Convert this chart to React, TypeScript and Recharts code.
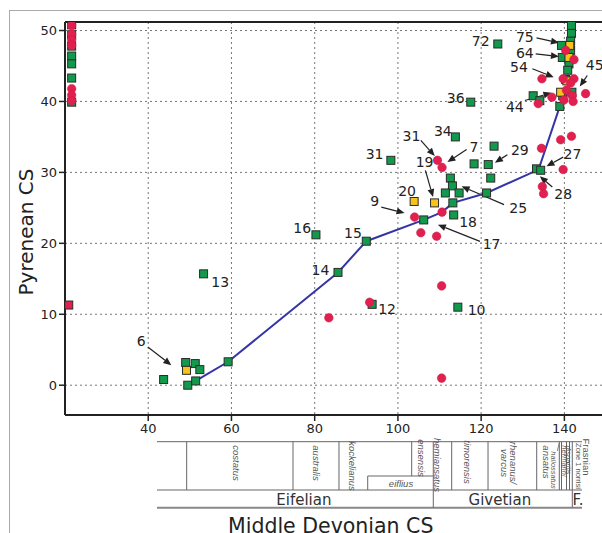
import React from 'react';
import { ComposedChart, Scatter, XAxis, YAxis, CartesianGrid, ReferenceLine } from 'recharts';

const X_TICKS = [40, 60, 80, 100, 120, 140];
const Y_TICKS = [0, 10, 20, 30, 40, 50];
const X_DOMAIN: [number, number] = [20, 150];
const Y_DOMAIN: [number, number] = [-4.2, 51.2];

const greenSquares = [
  { x: 21.6, y: 50.8 }, { x: 21.6, y: 49.4 }, { x: 21.6, y: 47.8 }, { x: 21.6, y: 46.4 },
  { x: 21.6, y: 45.3 }, { x: 21.6, y: 43.3 }, { x: 21.6, y: 39.9 },
  { x: 43.7, y: 0.8 }, { x: 49.0, y: 3.2 }, { x: 51.3, y: 3.05 }, { x: 52.4, y: 2.2 },
  { x: 49.5, y: 0.0 }, { x: 51.4, y: 0.6 }, { x: 59.2, y: 3.3 },
  { x: 53.3, y: 15.7 }, { x: 80.3, y: 21.2 }, { x: 85.6, y: 15.9 }, { x: 92.4, y: 20.3 },
  { x: 93.8, y: 11.4 }, { x: 114.4, y: 11.0 }, { x: 98.3, y: 31.7 },
  { x: 113.8, y: 35.0 }, { x: 118.3, y: 31.2 }, { x: 123.1, y: 33.7 }, { x: 121.7, y: 31.1 },
  { x: 122.3, y: 29.2 }, { x: 112.6, y: 29.2 }, { x: 113.1, y: 28.1 }, { x: 111.4, y: 27.1 },
  { x: 114.7, y: 27.1 }, { x: 113.2, y: 25.7 }, { x: 121.3, y: 27.1 }, { x: 113.4, y: 24.0 },
  { x: 106.2, y: 23.3 }, { x: 133.3, y: 30.5 }, { x: 134.3, y: 30.3 },
  { x: 124.0, y: 48.1 }, { x: 117.5, y: 39.9 },
  { x: 141.7, y: 50.7 }, { x: 141.7, y: 49.6 }, { x: 141.5, y: 48.5 }, { x: 139.3, y: 47.9 },
  { x: 141.5, y: 47.2 }, { x: 139.5, y: 46.2 }, { x: 141.1, y: 45.3 }, { x: 140.8, y: 44.4 },
  { x: 140.3, y: 43.1 }, { x: 141.8, y: 41.3 }, { x: 132.5, y: 40.8 }, { x: 134.1, y: 40.1 },
  { x: 139.6, y: 40.8 }, { x: 138.9, y: 39.3 },
];

const redCircles = [
  { x: 21.6, y: 50.7 }, { x: 21.6, y: 49.5 }, { x: 21.6, y: 48.7 }, { x: 21.6, y: 47.9 },
  { x: 21.6, y: 41.8 }, { x: 21.6, y: 40.9 }, { x: 21.6, y: 40.1 },
  { x: 83.4, y: 9.5 }, { x: 93.2, y: 11.7 }, { x: 104.0, y: 23.7 }, { x: 105.5, y: 21.5 },
  { x: 109.5, y: 31.7 }, { x: 110.6, y: 30.7 }, { x: 110.6, y: 24.4 }, { x: 109.3, y: 21.0 },
  { x: 110.5, y: 14.0 }, { x: 110.5, y: 1.0 }, { x: 134.5, y: 33.4 }, { x: 134.7, y: 28.0 },
  { x: 135.0, y: 27.0 }, { x: 139.7, y: 30.4 },
  { x: 139.1, y: 34.6 }, { x: 141.7, y: 35.1 }, { x: 140.3, y: 47.2 }, { x: 142.3, y: 45.9 },
  { x: 134.6, y: 43.2 }, { x: 139.7, y: 43.2 }, { x: 142.3, y: 43.2 }, { x: 141.5, y: 42.6 },
  { x: 140.5, y: 41.6 }, { x: 137.0, y: 40.6 }, { x: 145.1, y: 41.1 }, { x: 133.7, y: 39.7 },
  { x: 139.9, y: 40.2 }, { x: 141.9, y: 40.8 }, { x: 142.1, y: 40.0 },
];

const redSquares = [{ x: 20.9, y: 11.3 }];

const yellowSquares = [
  { x: 49.2, y: 2.1 }, { x: 103.9, y: 25.9 }, { x: 108.8, y: 25.7 }, { x: 141.3, y: 47.9 },
  { x: 141.1, y: 46.2 }, { x: 140.6, y: 42.9 }, { x: 139.1, y: 41.3 },
];

const trendLine = [
  { x: 51.4, y: 0.6 }, { x: 59.2, y: 3.3 }, { x: 85.6, y: 15.9 }, { x: 92.4, y: 20.3 },
  { x: 106.2, y: 23.3 }, { x: 110.6, y: 24.4 }, { x: 113.2, y: 25.7 }, { x: 121.3, y: 27.1 },
  { x: 133.8, y: 30.4 }, { x: 138.9, y: 39.3 },
];

const pointLabels = [
  { x: 38.3, y: 6.2, text: '6' }, { x: 57.3, y: 14.55, text: '13' }, { x: 77.0, y: 22.2, text: '16' },
  { x: 81.4, y: 16.2, text: '14' }, { x: 89.2, y: 21.4, text: '15' }, { x: 97.4, y: 10.8, text: '12' },
  { x: 118.9, y: 10.56, text: '10' }, { x: 94.4, y: 26.0, text: '9' }, { x: 102.2, y: 27.4, text: '20' },
  { x: 94.4, y: 32.6, text: '31' }, { x: 103.25, y: 35.1, text: '31' }, { x: 110.8, y: 35.9, text: '34' },
  { x: 118.3, y: 33.6, text: '7' }, { x: 129.3, y: 33.1, text: '29' }, { x: 106.4, y: 31.45, text: '19' },
  { x: 128.9, y: 25.0, text: '25' }, { x: 116.85, y: 23.0, text: '18' }, { x: 122.5, y: 19.96, text: '17' },
  { x: 141.95, y: 32.6, text: '27' }, { x: 139.7, y: 26.9, text: '28' }, { x: 130.5, y: 49.06, text: '75' },
  { x: 130.5, y: 46.8, text: '64' }, { x: 129.1, y: 44.83, text: '54' }, { x: 128.1, y: 39.2, text: '44' },
  { x: 147.3, y: 45.07, text: '45' }, { x: 119.9, y: 48.5, text: '72' }, { x: 113.9, y: 40.5, text: '36' },
];

const arrows = [
  { x1: 39.9, y1: 5.39, x2: 45.55, y2: 2.82 },
  { x1: 96.0, y1: 25.11, x2: 101.6, y2: 24.27 },
  { x1: 105.5, y1: 34.51, x2: 108.85, y2: 32.3 },
  { x1: 116.5, y1: 33.24, x2: 111.9, y2: 31.45 },
  { x1: 126.3, y1: 32.49, x2: 123.3, y2: 31.37 },
  { x1: 106.6, y1: 30.28, x2: 108.44, y2: 26.52 },
  { x1: 125.5, y1: 25.45, x2: 115.3, y2: 28.03 },
  { x1: 119.7, y1: 20.28, x2: 109.6, y2: 22.63 },
  { x1: 139.7, y1: 32.15, x2: 135.7, y2: 30.85 },
  { x1: 137.1, y1: 27.93, x2: 134.1, y2: 29.44 },
  { x1: 133.3, y1: 48.97, x2: 138.7, y2: 48.27 },
  { x1: 133.1, y1: 46.72, x2: 138.7, y2: 46.34 },
  { x1: 132.3, y1: 44.61, x2: 137.45, y2: 43.42 },
  { x1: 130.5, y1: 40.14, x2: 136.9, y2: 41.23 },
  { x1: 145.5, y1: 43.66, x2: 143.7, y2: 42.11 },
];

// biozone table (positions on the CS scale)
const TABLE_RANGE = [42.11, 144.23];
const zoneLines = [49.24, 74.79, 85.84, 112.92, 121.65, 133.35, 138.78, 139.31, 140.51, 141.23];
const stageLines = [108.5, 141.9];
const ensensisLine = 103.31;
const eiflusBox = [92.74, 108.5];
const zoneNames = [
  { name: 'costatus', x: 61.26, y: 463, italic: true },
  { name: 'australis', x: 80.48, y: 463, italic: true },
  { name: 'kockelianus', x: 89.04, y: 466, italic: true },
  { name: 'ensensis', x: 105.55, y: 458, italic: true },
  { name: 'hemiansatus', x: 109.46, y: 465, italic: true },
  { name: 'timorensis', x: 116.67, y: 462, italic: true },
  { name: 'rhenanus/', x: 127.73, y: 463, italic: true },
  { name: 'varcus', x: 125.49, y: 463, italic: true },
  { name: 'ansatus', x: 135.75, y: 462, italic: true },
  { name: 'hallossatus', x: 137.34, y: 470, italic: true },
  { name: 'hermanni', x: 139.91, y: 461, italic: true },
  { name: 'disparilis', x: 140.99, y: 460, italic: true },
  { name: 'Zone 1 norrisi', x: 143.35, y: 466, italic: false },
  { name: 'Frasnian', x: 145.32, y: 457, italic: false },
];
const stages = [
  { name: 'Eifelian', x: 77.4 },
  { name: 'Givetian', x: 124.5 },
  { name: 'F.', x: 143.3 },
];

const CHART_W = 620;
const CHART_H = 533;
const PLOT_L = 65;
const PLOT_R = 606;
const px = (v: number) => PLOT_L + ((v - X_DOMAIN[0]) * (PLOT_R - PLOT_L)) / (X_DOMAIN[1] - X_DOMAIN[0]);

const FONT = '"DejaVu Sans", Verdana, sans-serif';

const square = (fill: string) => (p: any) => (
  <rect x={p.cx - 4} y={p.cy - 4} width={8} height={8} fill={fill} stroke="#2b2b2b" strokeWidth={1} />
);
const circle = (p: any) => <circle cx={p.cx} cy={p.cy} r={4.3} fill="#e2204f" stroke="#c81a44" strokeWidth={0.5} />;
const noShape = () => <g />;
const labelShape = (p: any) => (
  <text x={p.cx} y={p.cy} textAnchor="middle" dominantBaseline="central" fontSize={14} fontFamily={FONT} fill="#222">
    {(p.payload && p.payload.text) || p.text}
  </text>
);

const ArrowShape = (p: any) => {
  const { x1, y1, x2, y2 } = p;
  if ([x1, y1, x2, y2].some((v) => typeof v !== 'number' || isNaN(v))) return <g />;
  const ang = Math.atan2(y2 - y1, x2 - x1);
  const L = 8, Wd = 3.4;
  const bx = x2 - L * Math.cos(ang), by = y2 - L * Math.sin(ang);
  const ax = bx + Wd * Math.sin(ang), ay = by - Wd * Math.cos(ang);
  const cx = bx - Wd * Math.sin(ang), cy = by + Wd * Math.cos(ang);
  return (
    <g>
      <line x1={x1} y1={y1} x2={bx} y2={by} stroke="#222" strokeWidth={1.2} />
      <polygon points={`${x2},${y2} ${ax},${ay} ${cx},${cy}`} fill="#222" />
    </g>
  );
};

const BiozoneTable = () => {
  const T = 441.7, M = 490, B = 507.7, E = 476;
  const x0 = px(TABLE_RANGE[0]), x1 = px(TABLE_RANGE[1]);
  const ln = '#666';
  return (
    <svg width={602} height={533} style={{ position: 'absolute', left: 0, top: 0, pointerEvents: 'none' }}>
      <line x1={x0} y1={T} x2={x1} y2={T} stroke={ln} strokeWidth={1} />
      <line x1={x0} y1={M} x2={x1} y2={M} stroke={ln} strokeWidth={1} />
      <line x1={x0} y1={B} x2={x1} y2={B} stroke="#888" strokeWidth={2} />
      {zoneLines.map((v, i) => (
        <line key={i} x1={px(v)} y1={T} x2={px(v)} y2={M} stroke={ln} strokeWidth={1} />
      ))}
      {stageLines.map((v, i) => (
        <line key={i} x1={px(v)} y1={T} x2={px(v)} y2={B} stroke={ln} strokeWidth={1} />
      ))}
      <line x1={px(ensensisLine)} y1={T} x2={px(ensensisLine)} y2={E} stroke={ln} strokeWidth={1} />
      <line x1={px(eiflusBox[0])} y1={E} x2={px(eiflusBox[1])} y2={E} stroke={ln} strokeWidth={1} />
      <line x1={px(eiflusBox[0])} y1={E} x2={px(eiflusBox[0])} y2={M} stroke={ln} strokeWidth={1} />
      <line x1={px(138.3)} y1={451} x2={px(138.78)} y2={443} stroke={ln} strokeWidth={0.8} />
      {zoneNames.map((z, i) => (
        <text
          key={i}
          x={px(z.x)}
          y={z.y}
          transform={`rotate(90 ${px(z.x)} ${z.y})`}
          textAnchor="middle"
          dominantBaseline="central"
          fontSize={z.name.length > 12 || z.x > 136.5 && z.x < 141.5 ? 7.5 : 9.5}
          fontStyle={z.italic ? 'italic' : 'normal'}
          fontFamily='"Liberation Sans", Arial, sans-serif'
          fill="#555"
        >
          {z.name}
        </text>
      ))}
      <text x={px(100.74)} y={483.3} textAnchor="middle" dominantBaseline="central" fontSize={9.5} fontStyle="italic"
        fontFamily='"Liberation Sans", Arial, sans-serif' fill="#555">eiflius</text>
      {stages.map((s, i) => (
        <text key={i} x={px(s.x)} y={499.5} textAnchor="middle" dominantBaseline="central" fontSize={15}
          fontFamily={FONT} fill="#333">{s.name}</text>
      ))}
      <text x={330.7} y={533.3} textAnchor="middle" fontSize={20.5} fontFamily={FONT} fill="#222">Middle Devonian CS</text>
      <text x={33.3} y={232} transform="rotate(-90 33.3 232)" textAnchor="middle" fontSize={20} fontFamily={FONT} fill="#222">Pyrenean CS</text>
    </svg>
  );
};

export default function App() {
  return (
    <div style={{ position: 'absolute', left: 0, top: 0, width: 602, height: 533, overflow: 'hidden', background: '#fff' }}>
      <div style={{ position: 'absolute', left: 9, top: 10, width: 800, height: 800, border: '1.5px solid #aaa' }} />
      <div style={{ position: 'absolute', left: 0, top: 0 }}>
        <ComposedChart width={CHART_W} height={CHART_H} margin={{ top: 22, right: CHART_W - PLOT_R, left: 0, bottom: 88 }}>
          <CartesianGrid stroke="#777" strokeDasharray="2 3" strokeWidth={1} />
          <XAxis
            dataKey="x"
            type="number"
            domain={X_DOMAIN}
            ticks={X_TICKS}
            allowDataOverflow
            height={30}
            axisLine={{ stroke: '#222', strokeWidth: 2 }}
            tickLine={{ stroke: '#222', strokeWidth: 1.5 }}
            tickSize={6}
            tickMargin={3}
            tick={{ fontSize: 13, fontFamily: FONT, fill: '#222' }}
          />
          <YAxis
            dataKey="y"
            type="number"
            domain={Y_DOMAIN}
            ticks={Y_TICKS}
            allowDataOverflow
            width={PLOT_L}
            axisLine={{ stroke: '#222', strokeWidth: 2 }}
            tickLine={{ stroke: '#222', strokeWidth: 1.5 }}
            tickSize={6}
            tickMargin={2}
            tick={{ fontSize: 13, fontFamily: FONT, fill: '#222' }}
          />
          <ReferenceLine y={Y_DOMAIN[1]} stroke="#222" strokeWidth={2} ifOverflow="visible" />
          <Scatter data={trendLine} line={{ stroke: '#3535a5', strokeWidth: 2 }} lineType="joint" shape={noShape} isAnimationActive={false} />
          <Scatter data={greenSquares} shape={square('#119a4c')} isAnimationActive={false} />
          <Scatter data={yellowSquares} shape={square('#f7c21b')} isAnimationActive={false} />
          <Scatter data={redCircles} shape={circle} isAnimationActive={false} />
          <Scatter data={redSquares} shape={square('#e2204f')} isAnimationActive={false} />
          <Scatter data={pointLabels} shape={labelShape} isAnimationActive={false} />
          {arrows.map((a, i) => (
            <ReferenceLine
              key={i}
              segment={[{ x: a.x1, y: a.y1 }, { x: a.x2, y: a.y2 }]}
              ifOverflow="visible"
              shape={ArrowShape}
            />
          ))}
        </ComposedChart>
      </div>
      <BiozoneTable />
    </div>
  );
}
